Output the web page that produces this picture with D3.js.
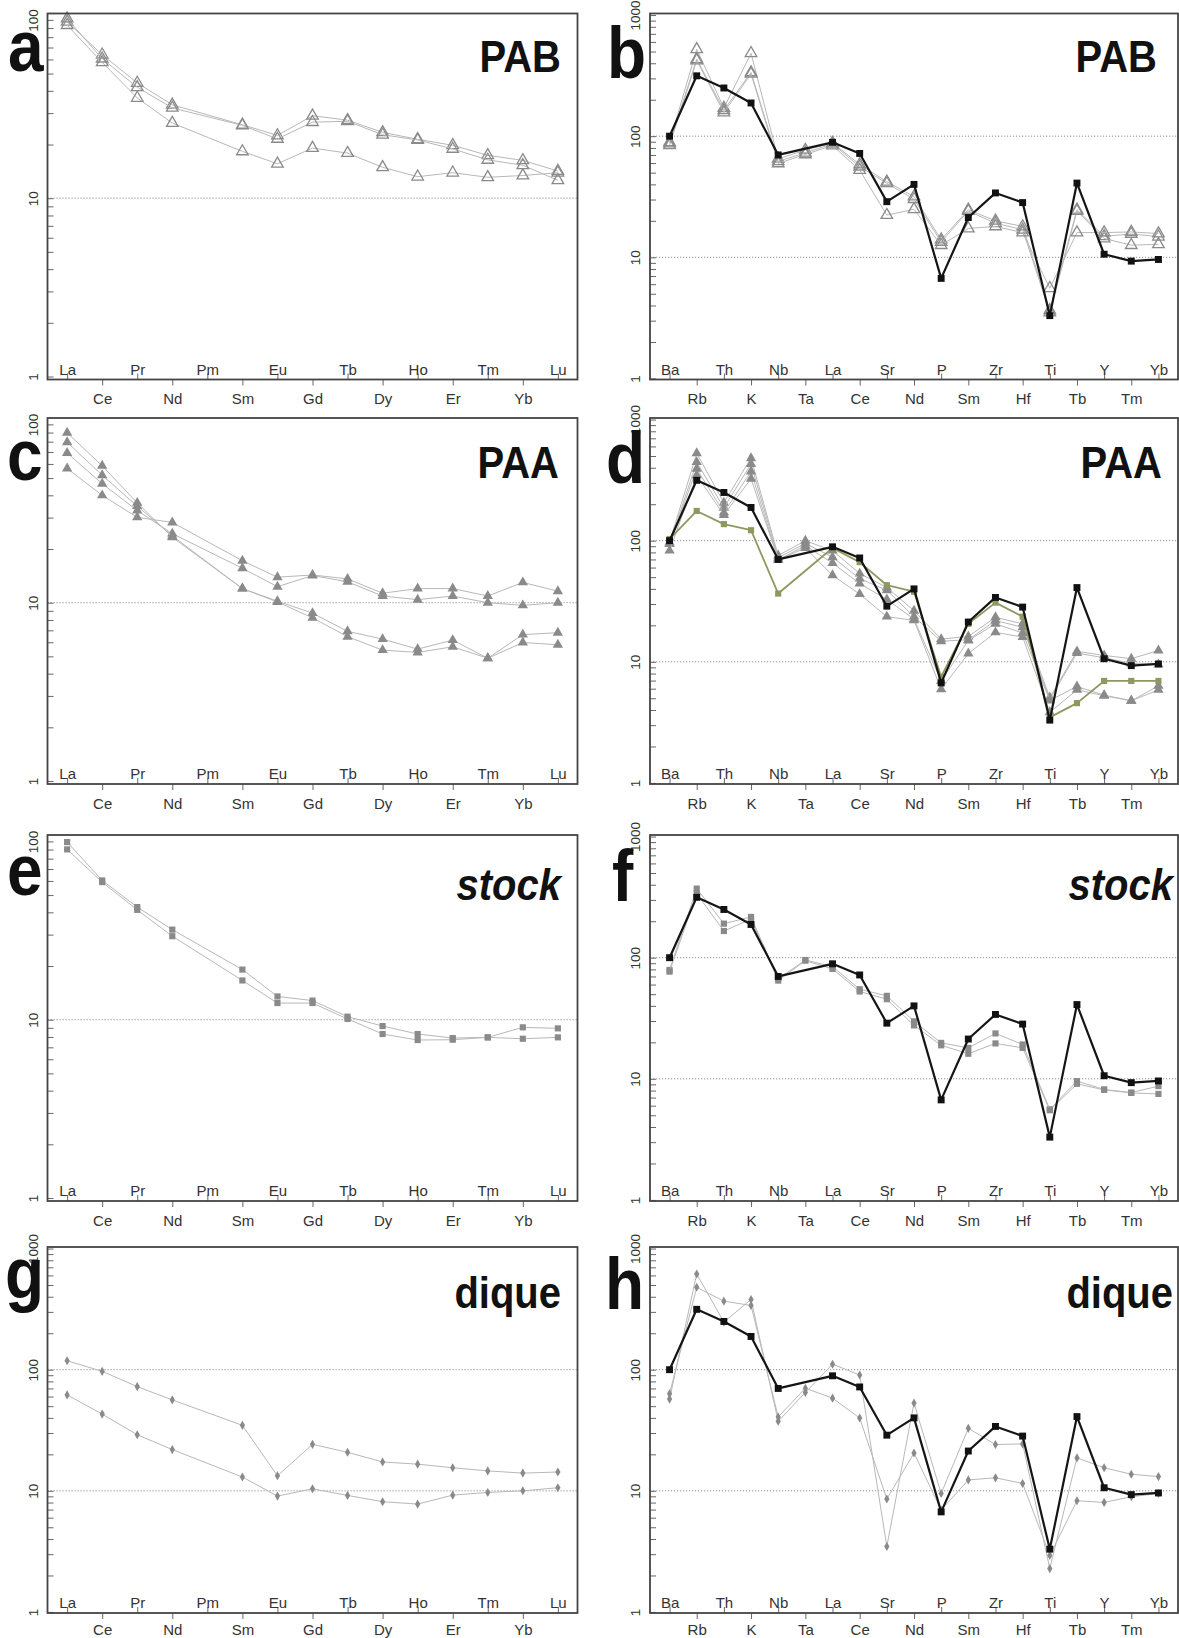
<!DOCTYPE html>
<html>
<head>
<meta charset="utf-8">
<script src="https://cdn.jsdelivr.net/npm/d3@7"></script>
<style>
  body { margin: 0; background: #fff; }
  svg text { font-family: "Liberation Sans", Arial, Helvetica, sans-serif; }
</style>
</head>
<body>
<div id="chart"></div>
<script>
// element order on the x axes
var reeElements = ["La","Ce","Pr","Nd","Pm","Sm","Eu","Gd","Tb","Dy","Ho","Er","Tm","Yb","Lu"];
var spiderElements = ["Ba","Rb","Th","K","Nb","Ta","La","Ce","Sr","Nd","P","Sm","Zr","Hf","Ti","Tb","Y","Tm","Yb"];

var ticks100 = [1, 10, 100];
var ticks1000 = [1, 10, 100, 1000];

// black reference pattern (same in b, d, f, h)
var spiderRef = [100, 315, 250, 188, 70, null, 89, 72, 28.8, 40, 6.7, 21.3, 34, 28.3, 3.3, 41, 10.6, 9.3, 9.6];

// a - PAB REE
var pabRee1 = [97.5, 63.8, 44.3, 33.4, null, 25.8, 22.5, 29.0, 27.4, 23.4, 21.4, 19.8, 17.4, 16.3, 14.2];
var pabRee2 = [101.7, 60.6, 41.9, 32.1, null, 25.6, 21.5, 26.7, 27.0, 22.7, 21.2, 18.9, 16.4, 15.3, 12.6];
var pabRee3 = [93.4, 57.8, 36.5, 26.4, null, 18.3, 15.6, 19.1, 17.9, 14.9, 13.2, 13.9, 13.1, 13.4, 13.9];

// b - PAB spider
var pabSpider1 = [89, 522, 171, 484, 65, 77, 88, 58.5, 42, 31.7, 14.0, 24.7, 20.0, 18.0, 3.65, 24.7, 14.9, 15.6, 14.8];
var pabSpider2 = [87, 432, 164, 336, 62, 73, 86.5, 56, 40.8, 30.2, 13.4, 24.1, 19.1, 16.9, 3.5, 24.1, 14.3, 12.6, 12.8];
var pabSpider3 = [84, 422, 157, 327, 59.6, 70.7, 83.8, 52.5, 22.3, 24.9, 12.6, 17.3, 18.0, 16.0, 5.56, 16.0, 16.0, 16.2, 15.7];

// c - PAA REE
var paaRee1 = [56.6, 40.0, 30.1, 28.2, null, 17.2, 13.9, 14.3, 13.6, 11.3, 12.0, 12.0, 10.9, 13.0, 11.6];
var paaRee2 = [69.1, 46.5, 32.9, 24.4, null, 15.6, 12.3, 14.2, 13.1, 10.9, 10.4, 10.9, 10.0, 9.66, 10.0];
var paaRee3 = [79.4, 51.9, 34.8, 23.7, null, 12.0, 10.2, 8.74, 6.91, 6.25, 5.49, 6.17, 4.88, 6.62, 6.79];
var paaRee4 = [89.8, 58.6, 36.3, 23.3, null, 12.0, 10.1, 8.22, 6.45, 5.42, 5.26, 5.66, 4.88, 5.98, 5.81];

// d - PAA spider
var paaSpider1 = [96.9, 527, 206, 480, 75.4, 100, 82.8, 53.5, 41.1, 26.4, 15.4, 16.2, 23.3, 20.6, 5.08, 12.2, 11.3, 10.6, 12.4];
var paaSpider2 = [93.9, 445, 187, 429, 72.2, 95.1, 73.1, 48.6, 39.0, 23.6, 14.8, 15.2, 21.9, 19.3, 4.9, 11.8, 10.8, 9.7, 9.5];
var paaSpider3 = [93.9, 392, 171, 373, 69.5, 91.0, 65.3, 44.3, 32.7, 22.5, 6.95, 15.0, 20.6, 17.3, 4.8, 6.25, 5.31, 4.77, 6.33];
var paaSpider4 = [82.8, 346, 163, 325, 69.5, 87.1, 51.8, 36.2, 23.6, 22.0, 5.94, 11.7, 17.5, 16.0, 3.83, 5.87, 5.25, 4.77, 5.87];
var paaSpiderOlive = [103, 176, 137, 122, 36.6, null, 87.1, 66.5, 42.9, 37.9, 7.53, 20.6, 30.8, 23.6, 3.48, 4.56, 6.95, 6.95, 6.95];

// e - stock REE
var stockRee1 = [99.1, 60.4, 42.8, 32.0, null, 19.1, 13.5, 12.8, 10.4, 9.21, 8.31, 7.89, 7.96, 9.06, 8.94];
var stockRee2 = [90.2, 59.1, 41.3, 29.4, null, 16.6, 12.4, 12.4, 10.1, 8.31, 7.69, 7.72, 7.96, 7.82, 7.96];

// f - stock spider
var stockSpider1 = [79.2, 372, 191, 217, 66.8, 95.7, 84.3, 54.9, 48.4, 29.8, 19.8, 18.0, 23.7, 19.2, 5.6, 9.57, 8.17, 7.7, 8.7];
var stockSpider2 = [76.7, 338, 166, 208, 64.7, 94.5, 80.7, 52.6, 45.4, 27.6, 18.9, 16.1, 19.6, 18.0, 5.5, 9.09, 8.1, 7.65, 7.5];

// g - dique REE
var diqueRee1 = [118.6, 96.9, 72.5, 56.3, null, 34.7, 13.3, 24.2, 20.8, 17.3, 16.6, 15.5, 14.6, 14.0, 14.3];
var diqueRee2 = [61.9, 43.0, 29.0, 21.9, null, 13.0, 9.04, 10.4, 9.16, 8.13, 7.77, 9.21, 9.69, 10.0, 10.6];

// h - dique spider
var diqueSpider1 = [57.2, 617, 247, 380, 37.5, 64.8, 111, 90.4, 3.47, 53.0, 9.5, 32.8, 24.1, 24.4, 2.28, 18.7, 15.5, 13.7, 13.1];
var diqueSpider2 = [63.2, 479, 368, 339, 40.7, 70.3, 58.2, 39.9, 8.55, 20.5, 6.94, 12.3, 12.8, 11.5, 2.93, 8.28, 8.02, 8.93, 9.5];

var W = 1179, H = 1638;
var rowTops = [13.5, 418, 835, 1247];
var boxH = 366;
var cols = [[47.5, 577.5], [650, 1178]];

var grey = "#8a8a8a", greyLine = "#b8b8b8", olive = "#8c9a60";

var panels = [
  {letter: "a", lx: 8, ly: 71, title: "PAB", tx: 561, ty: 72, col: 0, row: 0, type: "ree", ticks: ticks100, grid: [10],
    series: [pabRee1, pabRee2, pabRee3], marker: "openTri"},
  {letter: "b", lx: 607, ly: 78, title: "PAB", tx: 1157, ty: 72, col: 1, row: 0, type: "spider", ticks: ticks1000, grid: [10, 100],
    series: [pabSpider1, pabSpider2, pabSpider3], marker: "openTri"},
  {letter: "c", lx: 7, ly: 480, title: "PAA", tx: 559, ty: 478, col: 0, row: 1, type: "ree", ticks: ticks100, grid: [10],
    series: [paaRee1, paaRee2, paaRee3, paaRee4], marker: "tri"},
  {letter: "d", lx: 606, ly: 483, title: "PAA", tx: 1162, ty: 478, col: 1, row: 1, type: "spider", ticks: ticks1000, grid: [10, 100],
    series: [paaSpider1, paaSpider2, paaSpider3, paaSpider4], marker: "tri", olive: paaSpiderOlive},
  {letter: "e", lx: 7, ly: 895, title: "stock", italic: true, tx: 561, ty: 900, col: 0, row: 2, type: "ree", ticks: ticks100, grid: [10],
    series: [stockRee1, stockRee2], marker: "square"},
  {letter: "f", lx: 612, ly: 901, title: "stock", italic: true, tx: 1173, ty: 900, col: 1, row: 2, type: "spider", ticks: ticks1000, grid: [10, 100],
    series: [stockSpider1, stockSpider2], marker: "square"},
  {letter: "g", lx: 5, ly: 1298, title: "dique", tx: 561, ty: 1308, col: 0, row: 3, type: "ree", ticks: ticks1000, grid: [10, 100],
    series: [diqueRee1, diqueRee2], marker: "diamond"},
  {letter: "h", lx: 605, ly: 1309, title: "dique", tx: 1173, ty: 1308, col: 1, row: 3, type: "spider", ticks: ticks1000, grid: [10, 100],
    series: [diqueSpider1, diqueSpider2], marker: "diamond"}
];

var markerStyles = {
  openTri: {type: d3.symbolTriangle, size: 58, fill: "none", stroke: grey, sw: 1.3},
  tri: {type: d3.symbolTriangle, size: 46, fill: grey, stroke: "none", sw: 0},
  square: {type: d3.symbolSquare, size: 38, fill: grey, stroke: "none", sw: 0},
  diamond: {type: d3.symbolDiamond, size: 24, fill: grey, stroke: "none", sw: 0}
};

var svg = d3.select("#chart").append("svg")
  .attr("width", W)
  .attr("height", H);

function drawSeries(g, x, y, elems, values, lineColor, lineWidth, st) {
  var pts = elems.map(function(e, i) { return {e: e, v: values[i]}; })
    .filter(function(d) { return d.v != null; });
  var line = d3.line()
    .x(function(d) { return x(d.e); })
    .y(function(d) { return y(d.v); });
  g.append("path")
    .attr("d", line(pts))
    .attr("fill", "none")
    .attr("stroke", lineColor)
    .attr("stroke-width", lineWidth)
    .attr("stroke-linejoin", "round");
  g.selectAll(null)
    .data(pts)
    .enter()
    .append("path")
    .attr("d", d3.symbol().type(st.type).size(st.size))
    .attr("transform", function(d) { return "translate(" + x(d.e) + "," + y(d.v) + ")"; })
    .attr("fill", st.fill)
    .attr("stroke", st.stroke)
    .attr("stroke-width", st.sw);
}

function drawPanel(p) {
  var x0 = cols[p.col][0], x1 = cols[p.col][1];
  var y0 = rowTops[p.row], y1 = y0 + boxH;
  var elems = p.type === "ree" ? reeElements : spiderElements;
  var big = p.ticks[p.ticks.length - 1] === 1000;

  var x = d3.scalePoint()
    .domain(elems)
    .range([x0, x1])
    .padding(p.type === "ree" ? 0.56 : 0.72);
  var y = d3.scaleLog()
    .domain(big ? [0.98, 1030] : [0.962, 108.6])
    .range([y1, y0]);

  var g = svg.append("g");

  // dotted reference lines
  p.grid.forEach(function(v) {
    g.append("line")
      .attr("x1", x0).attr("x2", x1)
      .attr("y1", y(v)).attr("y2", y(v))
      .attr("stroke", "#8f8f8f")
      .attr("stroke-width", 1)
      .attr("stroke-dasharray", "1.2,1.8");
  });

  // x axis: alternate labels inside / outside
  var inside = elems.filter(function(e, i) { return i % 2 === 0; });
  var outside = elems.filter(function(e, i) { return i % 2 === 1; });

  var axIn = g.append("g")
    .attr("transform", "translate(0," + y1 + ")")
    .call(d3.axisTop(x).tickValues(inside).tickSizeInner(6).tickSizeOuter(0).tickPadding(0));
  axIn.select(".domain").remove();
  axIn.selectAll("line").attr("stroke", "#666");
  axIn.selectAll("text")
    .attr("y", -5)
    .style("font-size", "15px")
    .attr("fill", "#333");

  var axOut = g.append("g")
    .attr("transform", "translate(0," + y1 + ")")
    .call(d3.axisBottom(x).tickValues(outside).tickSizeInner(6).tickSizeOuter(0)
      .tickPadding(p.row === 3 ? 5 : 8));
  axOut.select(".domain").remove();
  axOut.selectAll("line").attr("stroke", "#666");
  axOut.selectAll("text")
    .style("font-size", "15px")
    .attr("fill", "#333");

  // y axis, log ticks pointing inwards
  var yTicks = [];
  p.ticks.forEach(function(t) {
    for (var k = 1; k <= 9; k++) {
      var v = t * k;
      if (v >= y.domain()[0] && v <= y.domain()[1]) yTicks.push(v);
    }
  });
  var axY = g.append("g")
    .attr("transform", "translate(" + x0 + ",0)")
    .call(d3.axisLeft(y)
      .tickValues(yTicks)
      .tickSizeInner(-6)
      .tickSizeOuter(0)
      .tickFormat(function(d) { return p.ticks.indexOf(d) >= 0 ? String(d) : ""; }));
  axY.select(".domain").remove();
  axY.selectAll("line").attr("stroke", "#666");
  axY.selectAll("text")
    .attr("x", null)
    .attr("dy", null)
    .attr("text-anchor", "middle")
    .attr("transform", "translate(-10,0) rotate(-90)")
    .style("font-size", "13.5px")
    .attr("fill", "#333");

  // data
  var st = markerStyles[p.marker];
  p.series.forEach(function(s) {
    drawSeries(g, x, y, elems, s, greyLine, 1, st);
  });
  if (p.olive) {
    drawSeries(g, x, y, elems, p.olive, olive, 1.8,
      {type: d3.symbolSquare, size: 38, fill: olive, stroke: "none", sw: 0});
  }
  if (p.type === "spider") {
    drawSeries(g, x, y, elems, spiderRef, "#151515", 2.2,
      {type: d3.symbolSquare, size: 48, fill: "#111", stroke: "none", sw: 0});
  }

  // frame
  g.append("rect")
    .attr("x", x0).attr("y", y0)
    .attr("width", x1 - x0).attr("height", boxH)
    .attr("fill", "none")
    .attr("stroke", "#444")
    .attr("stroke-width", 1.8);

  // panel letter and title (slightly tall lettering as in the figure)
  g.append("text")
    .attr("transform", "translate(" + p.lx + "," + p.ly + ") scale(1,1.12)")
    .text(p.letter)
    .style("font-size", "64px")
    .style("font-weight", "bold")
    .attr("fill", "#111");
  g.append("text")
    .attr("transform", "translate(" + p.tx + "," + p.ty + ") scale(1,1.1)")
    .attr("text-anchor", "end")
    .text(p.title)
    .style("font-size", "40px")
    .style("font-weight", "bold")
    .style("font-style", p.italic ? "italic" : "normal")
    .attr("fill", "#111");
}

panels.forEach(drawPanel);
</script>
</body>
</html>
